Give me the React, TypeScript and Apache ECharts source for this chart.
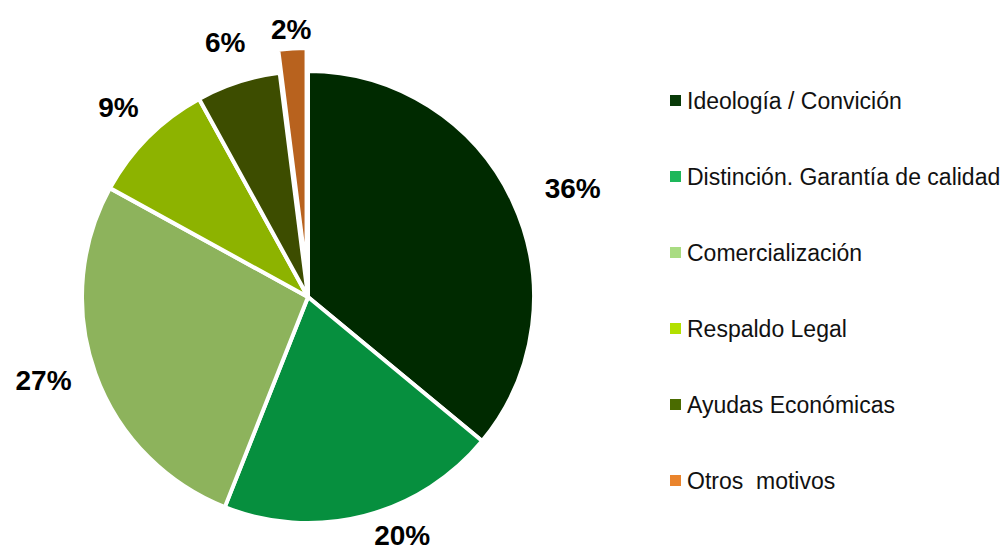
import React, { useEffect, useRef } from "react";
import * as echarts from "echarts";

const categories = [
  "Ideología / Convición",
  "Distinción. Garantía de calidad",
  "Comercialización",
  "Respaldo Legal",
  "Ayudas Económicas",
  "Otros  motivos",
];
const values = [36, 20, 27, 9, 6, 2];
const sliceColors = ["#002a00", "#068f3e", "#8db35c", "#8db300", "#3d4d00", "#b8621e"];
const legendColors = ["#083a08", "#1db75a", "#a9dc82", "#b2e000", "#4a6b00", "#ea842c"];
const explodedIndex = 5;
// which labels sit beside the pie edge (outside) vs on a ring around it
const labelOutside = [true, true, true, false, false, false];
const labelLineLength = [30, 20, 20, 0, 0, 0];

const FONT = "Liberation Sans, Arial, sans-serif";

export default function App() {
  const ref = useRef<HTMLDivElement>(null);
  useEffect(() => {
    document.body.style.margin = "0";
    const chart = echarts.init(ref.current!, undefined, { renderer: "svg" });
    const labelStyle = {
      formatter: "{c}%",
      fontFamily: FONT,
      fontWeight: "bold",
      fontSize: 28,
      color: "#000000",
    };
    const data = categories.map((name, i) => ({
      name,
      value: values[i],
      selected: i === explodedIndex,
      itemStyle: { color: sliceColors[i] },
      label: { show: labelOutside[i] },
      labelLine: { show: false, length: labelLineLength[i], length2: 0 },
    }));
    const ringData = categories.map((name, i) => ({
      name,
      value: values[i],
      label: { show: !labelOutside[i] },
    }));
    chart.setOption({
      animation: false,
      backgroundColor: "#ffffff",
      legend: {
        orient: "vertical",
        left: 663,
        top: 84,
        itemWidth: 13,
        itemHeight: 13,
        itemGap: 53,
        icon: "rect",
        selectedMode: false,
        textStyle: {
          fontFamily: FONT,
          fontSize: 23,
          lineHeight: 23,
          color: "#111111",
        },
        data: categories.map((name, i) => ({ name, itemStyle: { color: legendColors[i] } })),
      },
      series: [
        {
          type: "pie",
          center: [308, 297],
          radius: [0, 226],
          startAngle: 90,
          clockwise: true,
          selectedMode: "single",
          selectedOffset: 23,
          silent: true,
          avoidLabelOverlap: false,
          label: { ...labelStyle, position: "outside", distanceToLabelLine: 5 },
          labelLine: { show: false },
          itemStyle: { borderColor: "#ffffff", borderWidth: 4 },
          emphasis: { disabled: true },
          data,
        },
        {
          type: "pie",
          center: [308, 297],
          radius: [240, 290],
          startAngle: 90,
          clockwise: true,
          silent: true,
          avoidLabelOverlap: false,
          itemStyle: { color: "rgba(0,0,0,0)", borderWidth: 0 },
          emphasis: { disabled: true },
          labelLine: { show: false },
          label: { ...labelStyle, position: "inside" },
          data: ringData,
        },
      ],
    });
    return () => chart.dispose();
  }, []);
  return <div ref={ref} style={{ width: 1005, height: 556 }} />;
}
